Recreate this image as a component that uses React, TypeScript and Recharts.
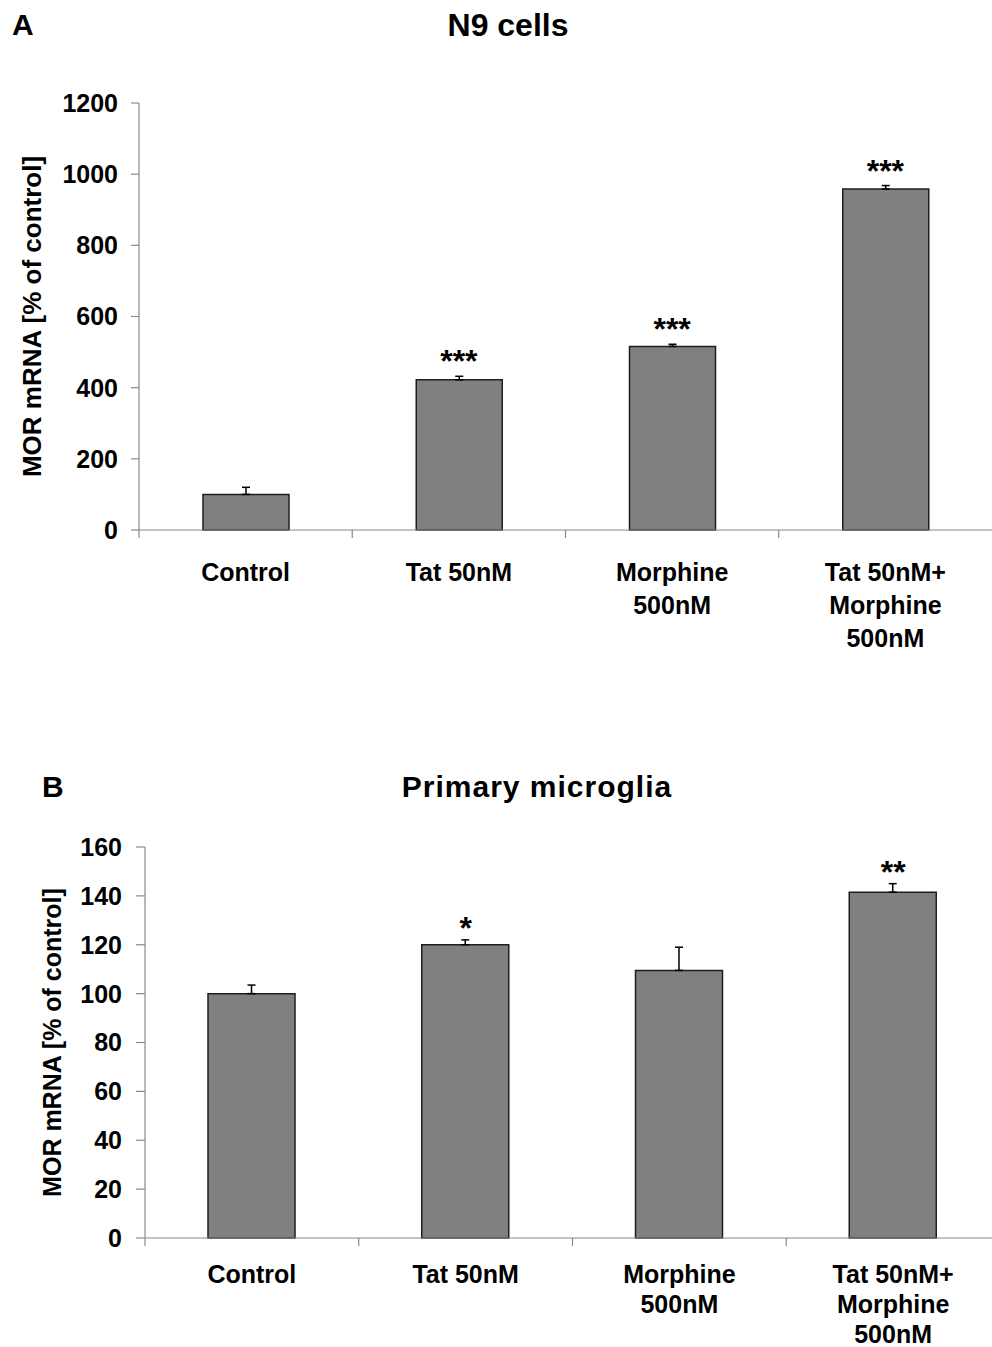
import { Bar, ComposedChart, ErrorBar, Scatter, XAxis, YAxis } from 'recharts'

const FONT = "'Liberation Sans', Arial, Helvetica, sans-serif"
const AXIS = '#8a8a8a'

const categories = ['Control', 'Tat 50nM', 'Morphine\n500nM', 'Tat 50nM+\nMorphine\n500nM']

// panel A - N9 cells
const n9Values = [100, 422, 516, 958]
const n9Errors = [20, 10, 6, 10]
const n9Stars = ['', '***', '***', '***']
const n9Ticks = [0, 200, 400, 600, 800, 1000, 1200]

// panel B - primary microglia
const microgliaValues = [100, 120, 109.5, 141.5]
const microgliaErrors = [3.5, 2, 9.5, 3.5]
const microgliaStars = ['', '*', '', '**']
const microgliaTicks = [0, 20, 40, 60, 80, 100, 120, 140, 160]

function buildRows(values: number[], errors: number[], stars: string[]) {
  return categories.map((name, i) => ({
    name,
    value: values[i],
    err: [0, errors[i]],
    top: values[i] + errors[i],
    stars: stars[i],
  }))
}

function CategoryTick(props: any) {
  const { x, y, payload, band, firstLine, lineGap, fontSize } = props
  const lines = String(payload.value).split('\n')
  return (
    <g>
      <line x1={x - band / 2} x2={x - band / 2} y1={y} y2={y + 8} stroke={AXIS} strokeWidth={1.2} />
      <text x={x} y={y + firstLine} textAnchor="middle" fontFamily={FONT} fontWeight="bold" fontSize={fontSize} fill="#000">
        {lines.map((l, i) => (
          <tspan key={i} x={x} dy={i === 0 ? 0 : lineGap}>
            {l}
          </tspan>
        ))}
      </text>
    </g>
  )
}

function YTitle(props: any) {
  const { viewBox, posX, text, size } = props
  const cy = viewBox.y + viewBox.height / 2
  return (
    <text
      x={posX}
      y={cy}
      transform={`rotate(-90 ${posX} ${cy})`}
      textAnchor="middle"
      dominantBaseline="central"
      fontFamily={FONT}
      fontWeight="bold"
      fontSize={size}
      fill="#000"
    >
      {text}
    </text>
  )
}

type PanelProps = {
  rows: ReturnType<typeof buildRows>
  ticks: number[]
  width: number
  height: number
  plotTop: number
  axisHeight: number
  yAxisWidth: number
  tickSize: number
  tickMargin: number
  barSize: number
  titleX: number
  titleSize: number
  firstLine: number
  lineGap: number
  starLift: number
}

function Panel(p: PanelProps) {
  const band = (p.width - p.yAxisWidth) / categories.length
  return (
    <ComposedChart
      width={p.width}
      height={p.height}
      data={p.rows}
      margin={{ top: p.plotTop, right: 0, left: 0, bottom: 0 }}
    >
      <XAxis
        dataKey="name"
        height={p.axisHeight}
        stroke={AXIS}
        strokeWidth={1.2}
        tickLine={false}
        tickSize={0}
        tickMargin={0}
        interval={0}
        tick={(t: any) => (
          <CategoryTick {...t} band={band} firstLine={p.firstLine} lineGap={p.lineGap} fontSize={25} />
        )}
      />
      <YAxis
        width={p.yAxisWidth}
        domain={[0, p.ticks[p.ticks.length - 1]]}
        ticks={p.ticks}
        interval={0}
        stroke={AXIS}
        strokeWidth={1.2}
        tickSize={p.tickSize}
        tickMargin={p.tickMargin}
        tick={{ fill: '#000', fontFamily: FONT, fontWeight: 'bold', fontSize: 25 }}
        label={<YTitle posX={p.titleX} text="MOR mRNA [% of control]" size={p.titleSize} />}
      />
      <Bar dataKey="value" fill="#808080" stroke="#1e1e1e" strokeWidth={1.5} barSize={p.barSize} isAnimationActive={false}>
        <ErrorBar dataKey="err" direction="y" width={4} stroke="#000" strokeWidth={1.5} />
      </Bar>
      <Scatter
        dataKey="top"
        isAnimationActive={false}
        shape={(s: any) =>
          s.payload.stars ? (
            <text x={s.cx} y={s.cy - p.starLift} textAnchor="middle" fontFamily={FONT} fontWeight="bold" fontSize={32} fill="#000">
              {s.payload.stars}
            </text>
          ) : (
            <g />
          )
        }
      />
    </ComposedChart>
  )
}

const heading = { position: 'absolute', fontFamily: FONT, fontWeight: 'bold', fontSize: 30, lineHeight: '30px', color: '#000' } as const

export default function App() {
  return (
    <div style={{ position: 'absolute', left: 0, top: 0, width: 992, height: 1347, overflow: 'hidden', background: '#fff' }}>
      <div style={{ ...heading, left: 12, top: 10 }}>A</div>
      <div style={{ ...heading, left: 0, width: 1016, top: 9, fontSize: 32, lineHeight: '32px', textAlign: 'center' }}>N9 cells</div>
      <div style={{ position: 'absolute', left: 0, top: 0 }}>
        <Panel
          rows={buildRows(n9Values, n9Errors, n9Stars)}
          ticks={n9Ticks}
          width={992}
          height={670}
          plotTop={103}
          axisHeight={140}
          yAxisWidth={139}
          tickSize={8}
          tickMargin={13}
          barSize={86}
          titleX={32}
          titleSize={26}
          firstLine={51}
          lineGap={33}
          starLift={4}
        />
      </div>

      <div style={{ ...heading, left: 42, top: 772 }}>B</div>
      <div style={{ ...heading, left: 0, width: 1074, top: 772, textAlign: 'center', letterSpacing: 1 }}>Primary microglia</div>
      <div style={{ position: 'absolute', left: 0, top: 680 }}>
        <Panel
          rows={buildRows(microgliaValues, microgliaErrors, microgliaStars)}
          ticks={microgliaTicks}
          width={1000}
          height={667}
          plotTop={167}
          axisHeight={109}
          yAxisWidth={145}
          tickSize={9}
          tickMargin={14}
          barSize={87}
          titleX={52}
          titleSize={25}
          firstLine={45}
          lineGap={30}
          starLift={1}
        />
      </div>
    </div>
  )
}
